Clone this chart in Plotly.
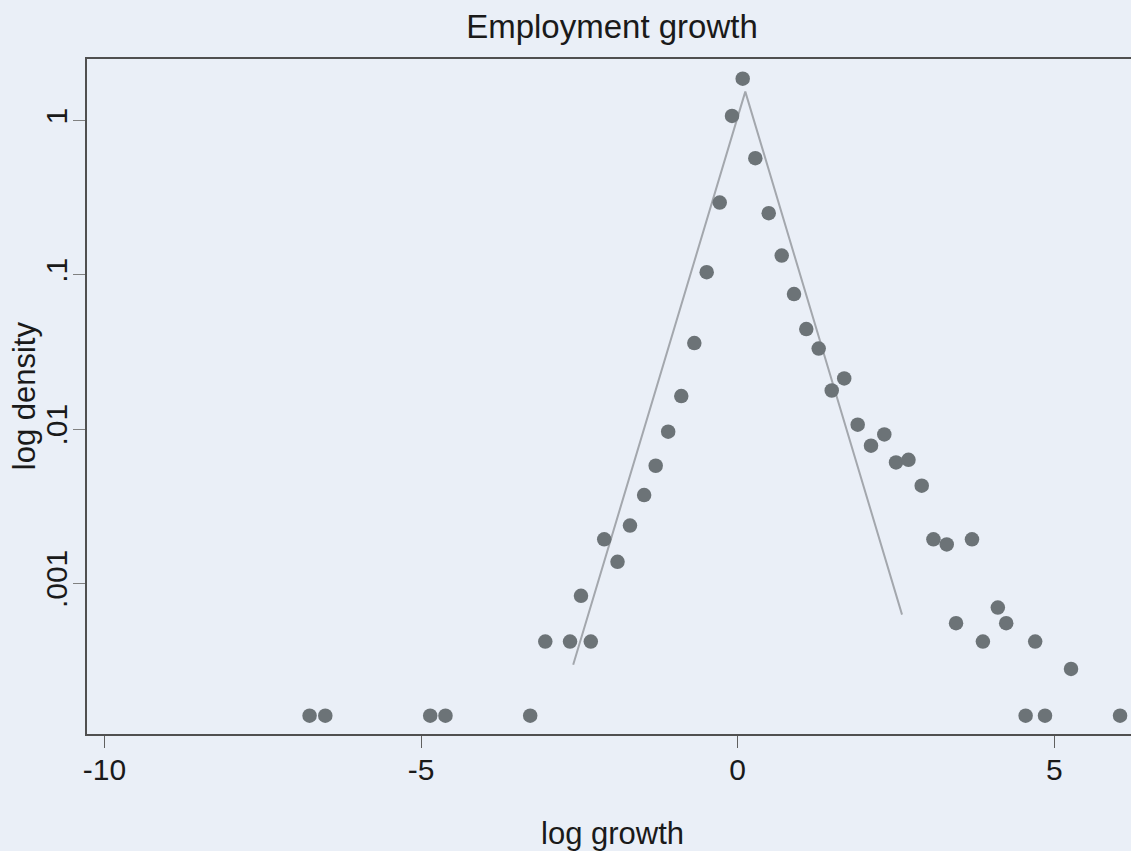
import plotly.graph_objects as go

# Binned log growth (x) and density (y)
growth = [-6.761, -6.513, -4.856, -4.615, -3.277, -3.039, -2.648, -2.320, -2.475,
          -2.108, -1.898, -1.701, -1.478, -1.295, -1.098, -0.891, -0.685, -0.490,
          -0.284, -0.090, 0.079, 0.278, 0.490, 0.695, 0.889, 1.083, 1.279, 1.485,
          1.682, 1.895, 2.105, 2.315, 2.500, 2.697, 2.906, 3.091, 3.301, 3.448,
          3.700, 3.872, 4.108, 4.240, 4.547, 4.698, 4.853, 5.264, 6.038]
density = [1.39e-4, 1.39e-4, 1.39e-4, 1.39e-4, 1.39e-4, 4.20e-4, 4.20e-4, 4.20e-4, 8.31e-4,
           1.93e-3, 1.38e-3, 2.37e-3, 3.74e-3, 5.79e-3, 9.62e-3, 0.01638, 0.0361, 0.1041,
           0.294, 1.071, 1.867, 0.570, 0.251, 0.1333, 0.0750, 0.0445, 0.0333, 0.0178,
           0.0213, 0.01069, 7.81e-3, 9.24e-3, 6.08e-3, 6.33e-3, 4.30e-3, 1.93e-3, 1.79e-3, 5.52e-4,
           1.93e-3, 4.20e-4, 6.97e-4, 5.52e-4, 1.39e-4, 4.20e-4, 1.39e-4, 2.79e-4, 1.39e-4]

# Fitted Laplace (tent) line
fit_x = [-2.598, 0.120, 2.595]
fit_y = [2.97e-4, 1.54, 6.28e-4]

xtick_vals = [-10, -5, 0, 5]
xtick_text = ["-10", "-5", "0", "5"]
ytick_vals = [1, 0.1, 0.01, 0.001]
ytick_text = ["1", ".1", ".01", ".001"]

BG = "#EAEFF7"
FONT = "Liberation Sans, Arial, Helvetica, sans-serif"
TXT = "#1A1A1A"
W, H = 1131, 851
L, R, T, B = 87, 0, 59, 116.5
pw = W - L - R
ph = H - T - B

def px_x(p):
    return (p - L) / pw

def px_y(p):
    return (H - B - p) / ph

fig = go.Figure()
fig.add_trace(go.Scatter(
    x=fit_x, y=fit_y, mode="lines",
    line=dict(color="#A3A7AD", width=2),
    showlegend=False, hoverinfo="skip"))
fig.add_trace(go.Scatter(
    x=growth, y=density, mode="markers",
    marker=dict(color="#6C7377", size=14.5, line=dict(width=0)),
    showlegend=False))

fig.update_layout(
    width=W, height=H,
    margin=dict(l=L, r=R, t=T, b=B, pad=0),
    paper_bgcolor=BG, plot_bgcolor=BG,
    font=dict(family=FONT, color=TXT, size=30),
    title=dict(text="Employment growth", x=612 / W, xref="container", xanchor="center",
               y=1 - 26 / H, yref="container", yanchor="middle",
               font=dict(size=33, family=FONT, color=TXT)),
    xaxis=dict(range=[-10.276, 6.211], tickvals=xtick_vals, ticktext=xtick_text,
               showgrid=False, zeroline=False, showline=True, mirror=True,
               linecolor="#505050", linewidth=1.5,
               ticks="outside", ticklen=12, tickwidth=1.2, tickcolor="#606060",
               ticklabelstandoff=-4,
               tickfont=dict(size=30, family=FONT, color=TXT)),
    yaxis=dict(type="log", range=[-3.976, 0.399], tickvals=ytick_vals, ticktext=ytick_text,
               showgrid=False, zeroline=False, showline=True, mirror=False,
               linecolor="#505050", linewidth=1.5,
               ticks="outside", ticklen=12, tickwidth=1.2, tickcolor="#808080",
               tickangle=-90, ticklabelstandoff=-6,
               tickfont=dict(size=30, family=FONT, color=TXT)),
    annotations=[
        dict(text="log growth", xref="paper", yref="paper", x=px_x(612), y=px_y(834),
             xanchor="center", yanchor="middle", showarrow=False,
             font=dict(size=31, family=FONT, color=TXT)),
        dict(text="log density", xref="paper", yref="paper", x=px_x(24), y=px_y(396.5),
             xanchor="center", yanchor="middle", showarrow=False, textangle=-90,
             font=dict(size=31, family=FONT, color=TXT)),
    ],
)

fig.write_html(
    "out.html",
    config={"displayModeBar": False},
    post_script="document.body.style.margin='0';document.body.style.background='%s';" % BG,
)
